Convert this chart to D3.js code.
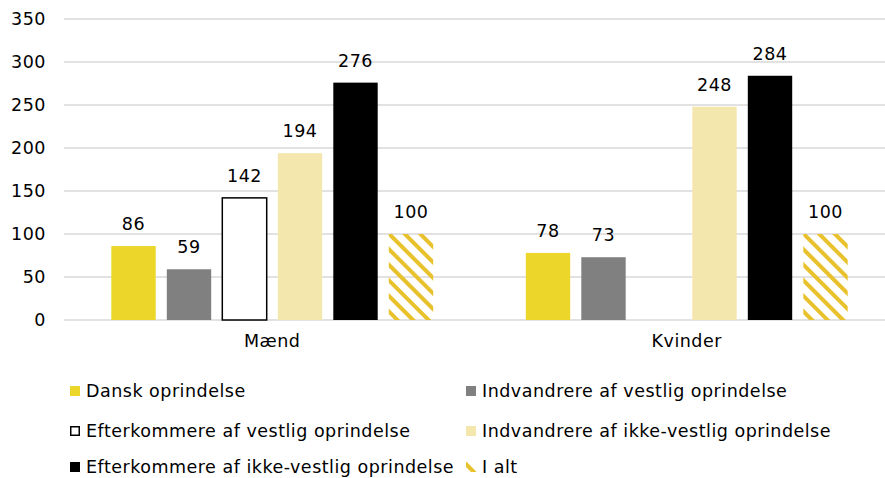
<!DOCTYPE html>
<html>
<head>
<meta charset="utf-8">
<script src="https://cdn.jsdelivr.net/npm/d3@7"></script>
<style>
  body { margin: 0; background: #fff; }
  text { font-family: "DejaVu Sans", Verdana, sans-serif; fill: #000; font-size: 17.5px; letter-spacing: 0.5px; }
</style>
</head>
<body>
<div id="chart"></div>
<script>
// data
var groups = ['Mænd', 'Kvinder'];
var seriesNames = [
    'Dansk oprindelse',
    'Indvandrere af vestlig oprindelse',
    'Efterkommere af vestlig oprindelse',
    'Indvandrere af ikke-vestlig oprindelse',
    'Efterkommere af ikke-vestlig oprindelse',
    'I alt'
];
var maendValues   = [86, 59, 142, 194, 276, 100];
var kvinderValues = [78, 73, null, 248, 284, 100];
var yTicks = [0, 50, 100, 150, 200, 250, 300, 350];

var w = 885;
var h = 478;

var svg = d3.select('#chart')
    .append('svg')
    .attr('width', w)
    .attr('height', h);

// hatch for "I alt"
var defs = svg.append('defs');
defs.append('pattern')
    .attr('id', 'hatch')
    .attr('patternUnits', 'userSpaceOnUse')
    .attr('width', 11)
    .attr('height', 11)
    .attr('patternTransform', 'rotate(-45)')
    .append('rect')
    .attr('x', 0).attr('y', 0)
    .attr('width', 4).attr('height', 11)
    .attr('fill', '#e8c12c');

var fills   = ['#ecd62a', '#808080', '#ffffff', '#f4e7ad', '#000000', 'url(#hatch)'];
var strokes = [null, null, '#000', null, null, null];

var y = d3.scaleLinear()
    .domain([0, 350])
    .range([320, 19]);

var x0 = d3.scaleBand()
    .domain(groups)
    .range([65, 894]);

var x1 = d3.scaleBand()
    .domain(d3.range(seriesNames.length))
    .range([0, 333])
    .paddingInner(0.2)
    .paddingOuter(0.1);

// gridlines
svg.append('g')
    .selectAll('line')
    .data(yTicks)
    .enter()
    .append('line')
    .attr('x1', 64)
    .attr('x2', w)
    .attr('y1', function (d) { return y(d); })
    .attr('y2', function (d) { return y(d); })
    .attr('stroke', '#d9d9d9')
    .attr('stroke-width', 1.5);

// y axis labels
svg.append('g')
    .selectAll('text')
    .data(yTicks)
    .enter()
    .append('text')
    .attr('x', 46)
    .attr('y', function (d) { return y(d); })
    .attr('dy', '0.36em')
    .attr('text-anchor', 'end')
    .text(function (d) { return d; });

var rows = [maendValues, kvinderValues];

var grp = svg.append('g')
    .selectAll('g')
    .data(groups)
    .enter()
    .append('g')
    .attr('transform', function (d) {
        return 'translate(' + (x0(d) + x0.bandwidth() / 2 - 333 / 2) + ',0)';
    });

grp.each(function (g, gi) {
    var data = rows[gi].map(function (v, i) { return { i: i, v: v }; })
        .filter(function (d) { return d.v != null; });
    var sel = d3.select(this);
    sel.selectAll('rect')
        .data(data)
        .enter()
        .append('rect')
        .attr('x', function (d) { return x1(d.i); })
        .attr('y', function (d) { return y(d.v); })
        .attr('width', x1.bandwidth())
        .attr('height', function (d) { return y(0) - y(d.v); })
        .attr('fill', function (d) { return fills[d.i]; })
        .attr('stroke', function (d) { return strokes[d.i]; })
        .attr('stroke-width', 1.5);
    sel.selectAll('text')
        .data(data)
        .enter()
        .append('text')
        .attr('x', function (d) { return x1(d.i) + x1.bandwidth() / 2; })
        .attr('y', function (d) { return y(d.v) - 16; })
        .attr('text-anchor', 'middle')
        .text(function (d) { return d.v; });
});

// x labels
svg.append('g')
    .selectAll('text')
    .data(groups)
    .enter()
    .append('text')
    .attr('x', function (d) { return x0(d) + x0.bandwidth() / 2; })
    .attr('y', 347)
    .attr('text-anchor', 'middle')
    .text(function (d) { return d; });

// legend, two columns
var legendX = [70, 466];
var legendY = [391, 431, 467];
var leg = svg.append('g')
    .selectAll('g')
    .data(seriesNames)
    .enter()
    .append('g')
    .attr('transform', function (d, i) {
        return 'translate(' + legendX[i % 2] + ',' + legendY[Math.floor(i / 2)] + ')';
    });

leg.append('rect')
    .attr('x', function (d, i) { return i === 2 ? 0.75 : 0; })
    .attr('y', function (d, i) { return i === 2 ? -4.25 : -5; })
    .attr('width', function (d, i) { return i === 2 ? 8.5 : 10; })
    .attr('height', function (d, i) { return i === 2 ? 8.5 : 10; })
    .attr('fill', function (d, i) { return fills[i]; })
    .attr('stroke', function (d, i) { return strokes[i]; })
    .attr('stroke-width', 1.5);

leg.append('text')
    .attr('x', 16)
    .attr('dy', '0.36em')
    .text(function (d) { return d; });
</script>
</body>
</html>
